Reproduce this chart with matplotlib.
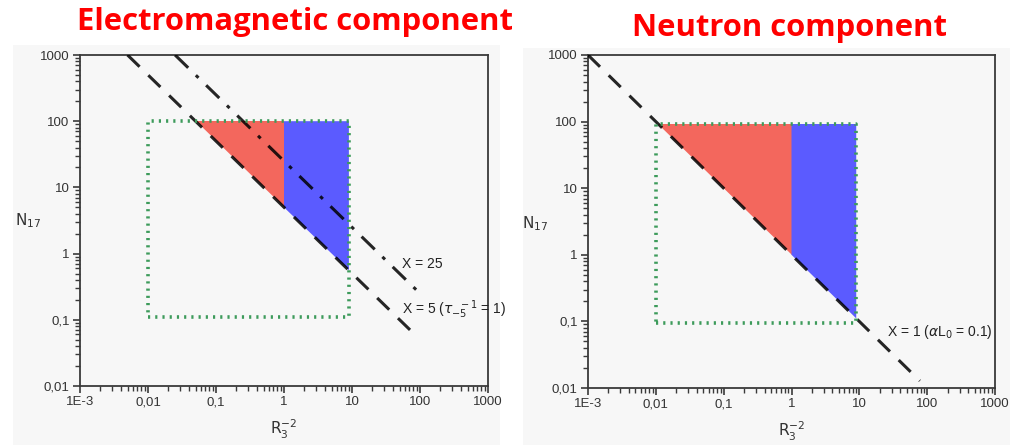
import matplotlib
matplotlib.use("Agg")
import matplotlib.pyplot as plt
from matplotlib.patches import Rectangle
from matplotlib.ticker import FixedLocator, FixedFormatter, LogLocator, NullFormatter

# ---- data ----
tick_vals = [1e-3, 1e-2, 1e-1, 1, 10, 100, 1000]
x_tick_labels = ["1E-3", "0,01", "0,1", "1", "10", "100", "1000"]
y_tick_vals = [1e-2, 1e-1, 1, 10, 100, 1000]
y_tick_labels = ["0,01", "0,1", "1", "10", "100", "1000"]

# Electromagnetic component
em_x5_r = [0.005, 81]
em_x5_n = [1000, 0.062]
em_x25_r = [0.025, 100]
em_x25_n = [1000, 0.25]
em_red_r = [0.05, 1, 1]
em_red_n = [100, 100, 5]
em_blue_r = [1, 9, 9, 1]
em_blue_n = [100, 100, 0.56, 5]
em_box_r = [0.01, 9, 9, 0.01, 0.01]
em_box_n = [0.11, 0.11, 100, 100, 0.11]

# Neutron component
n_x1_r = [0.001, 78]
n_x1_n = [1000, 0.0128]
n_red_r = [0.0109, 1, 1]
n_red_n = [92, 92, 1]
n_blue_r = [1, 9, 9, 1]
n_blue_n = [92, 92, 0.111, 1]
n_box_r = [0.01, 9, 9, 0.01, 0.01]
n_box_n = [0.095, 0.095, 92, 92, 0.095]

RED = "#f3675d"
BLUE = "#5b5bff"
GREEN = "#3d9b5b"
BG = "#f7f7f7"

fig = plt.figure(figsize=(10.1, 4.45), dpi=100)
fig.patch.set_facecolor("white")

# light grey "screenshot" panels behind each plot
fig.patches.append(Rectangle((13 / 1010, 0), 487 / 1010, 1 - 45 / 445,
                             transform=fig.transFigure, facecolor=BG, edgecolor="none", zorder=-5))
fig.patches.append(Rectangle((523 / 1010, 0), 487 / 1010, 1 - 48 / 445,
                             transform=fig.transFigure, facecolor=BG, edgecolor="none", zorder=-5))

ax1 = fig.add_axes([80 / 1010, 1 - 386 / 445, 408 / 1010, 331 / 445])
ax2 = fig.add_axes([588 / 1010, 1 - 388 / 445, 407 / 1010, 333 / 445])


def style_axes(ax):
    ax.set_xscale("log")
    ax.set_yscale("log")
    ax.set_xlim(1e-3, 1e3)
    ax.set_ylim(1e-2, 1e3)
    ax.set_facecolor(BG)
    for sp in ax.spines.values():
        sp.set_color("#3a3a3a")
        sp.set_linewidth(1.3)
    ax.xaxis.set_major_locator(FixedLocator(tick_vals))
    ax.xaxis.set_major_formatter(FixedFormatter(x_tick_labels))
    ax.yaxis.set_major_locator(FixedLocator(y_tick_vals))
    ax.yaxis.set_major_formatter(FixedFormatter(y_tick_labels))
    ax.xaxis.set_minor_locator(LogLocator(base=10, subs=range(2, 10), numticks=20))
    ax.yaxis.set_minor_locator(LogLocator(base=10, subs=range(2, 10), numticks=20))
    ax.xaxis.set_minor_formatter(NullFormatter())
    ax.yaxis.set_minor_formatter(NullFormatter())
    ax.tick_params(which="both", direction="out", top=False, right=False,
                   color="#3a3a3a", labelcolor="#333333", labelsize=9.5)
    ax.tick_params(which="major", length=5, width=1.2, pad=2.5)
    ax.tick_params(which="minor", length=3.5, width=1.0)
    ax.set_xlabel(r"R$_3^{-2}$", fontsize=11, color="#333333")
    ax.xaxis.set_label_coords(0.5, -0.095)
    ax.set_ylabel(r"N$_{17}$", fontsize=11, color="#333333", rotation=0)


def draw_box(ax, r, n):
    ax.plot(r, n, color=GREEN, lw=2.6, linestyle=(0, (0.6, 1.4)),
            dash_capstyle="butt", zorder=4)


# ---- left: electromagnetic component ----
style_axes(ax1)
ax1.yaxis.set_label_coords(-0.127, 0.47)
ax1.fill(em_red_r, em_red_n, color=RED, lw=0, zorder=2)
ax1.fill(em_blue_r, em_blue_n, color=BLUE, lw=0, zorder=2)
ax1.plot(em_x5_r, em_x5_n, color="black", lw=2.2, linestyle=(0, (5.5, 4)), alpha=0.85, zorder=3)
ax1.plot(em_x25_r, em_x25_n, color="black", lw=2.2, linestyle=(0, (6, 3.5, 1.2, 3.5)),
         alpha=0.85, zorder=3)
draw_box(ax1, em_box_r, em_box_n)
ax1.text(55, 0.7, "X = 25", fontsize=10, color="#222222", va="center", ha="left",
         family="Liberation Sans")
ax1.text(55, 0.14, r"X = 5 ($\tau_{-5}^{\ \ -1}$ = 1)", fontsize=10, color="#222222",
         va="center", ha="left", family="Liberation Sans")
fig.text(295 / 1010, 1 - 22 / 445, "Electromagnetic component", color="#ff0000",
         fontsize=22.3, fontweight="bold", ha="center", va="center", family="Open Sans")

# ---- right: neutron component ----
style_axes(ax2)
ax2.yaxis.set_label_coords(-0.13, 0.465)
ax2.fill(n_red_r, n_red_n, color=RED, lw=0, zorder=2)
ax2.fill(n_blue_r, n_blue_n, color=BLUE, lw=0, zorder=2)
ax2.plot(n_x1_r, n_x1_n, color="black", lw=2.2, linestyle=(0, (5.5, 4)), alpha=0.85, zorder=3)
draw_box(ax2, n_box_r, n_box_n)
ax2.text(26, 0.07, r"X = 1 ($\alpha$L$_0$ = 0.1)", fontsize=10, color="#222222",
         va="center", ha="left", family="Liberation Sans")
fig.text(790 / 1010, 1 - 28 / 445, "Neutron component", color="#ff0000",
         fontsize=22.3, fontweight="bold", ha="center", va="center", family="Open Sans")

for tl in ax1.get_xticklabels() + ax1.get_yticklabels() + ax2.get_xticklabels() + ax2.get_yticklabels():
    tl.set_family("Liberation Sans")

fig.savefig("out.png", dpi=100, facecolor="white")
